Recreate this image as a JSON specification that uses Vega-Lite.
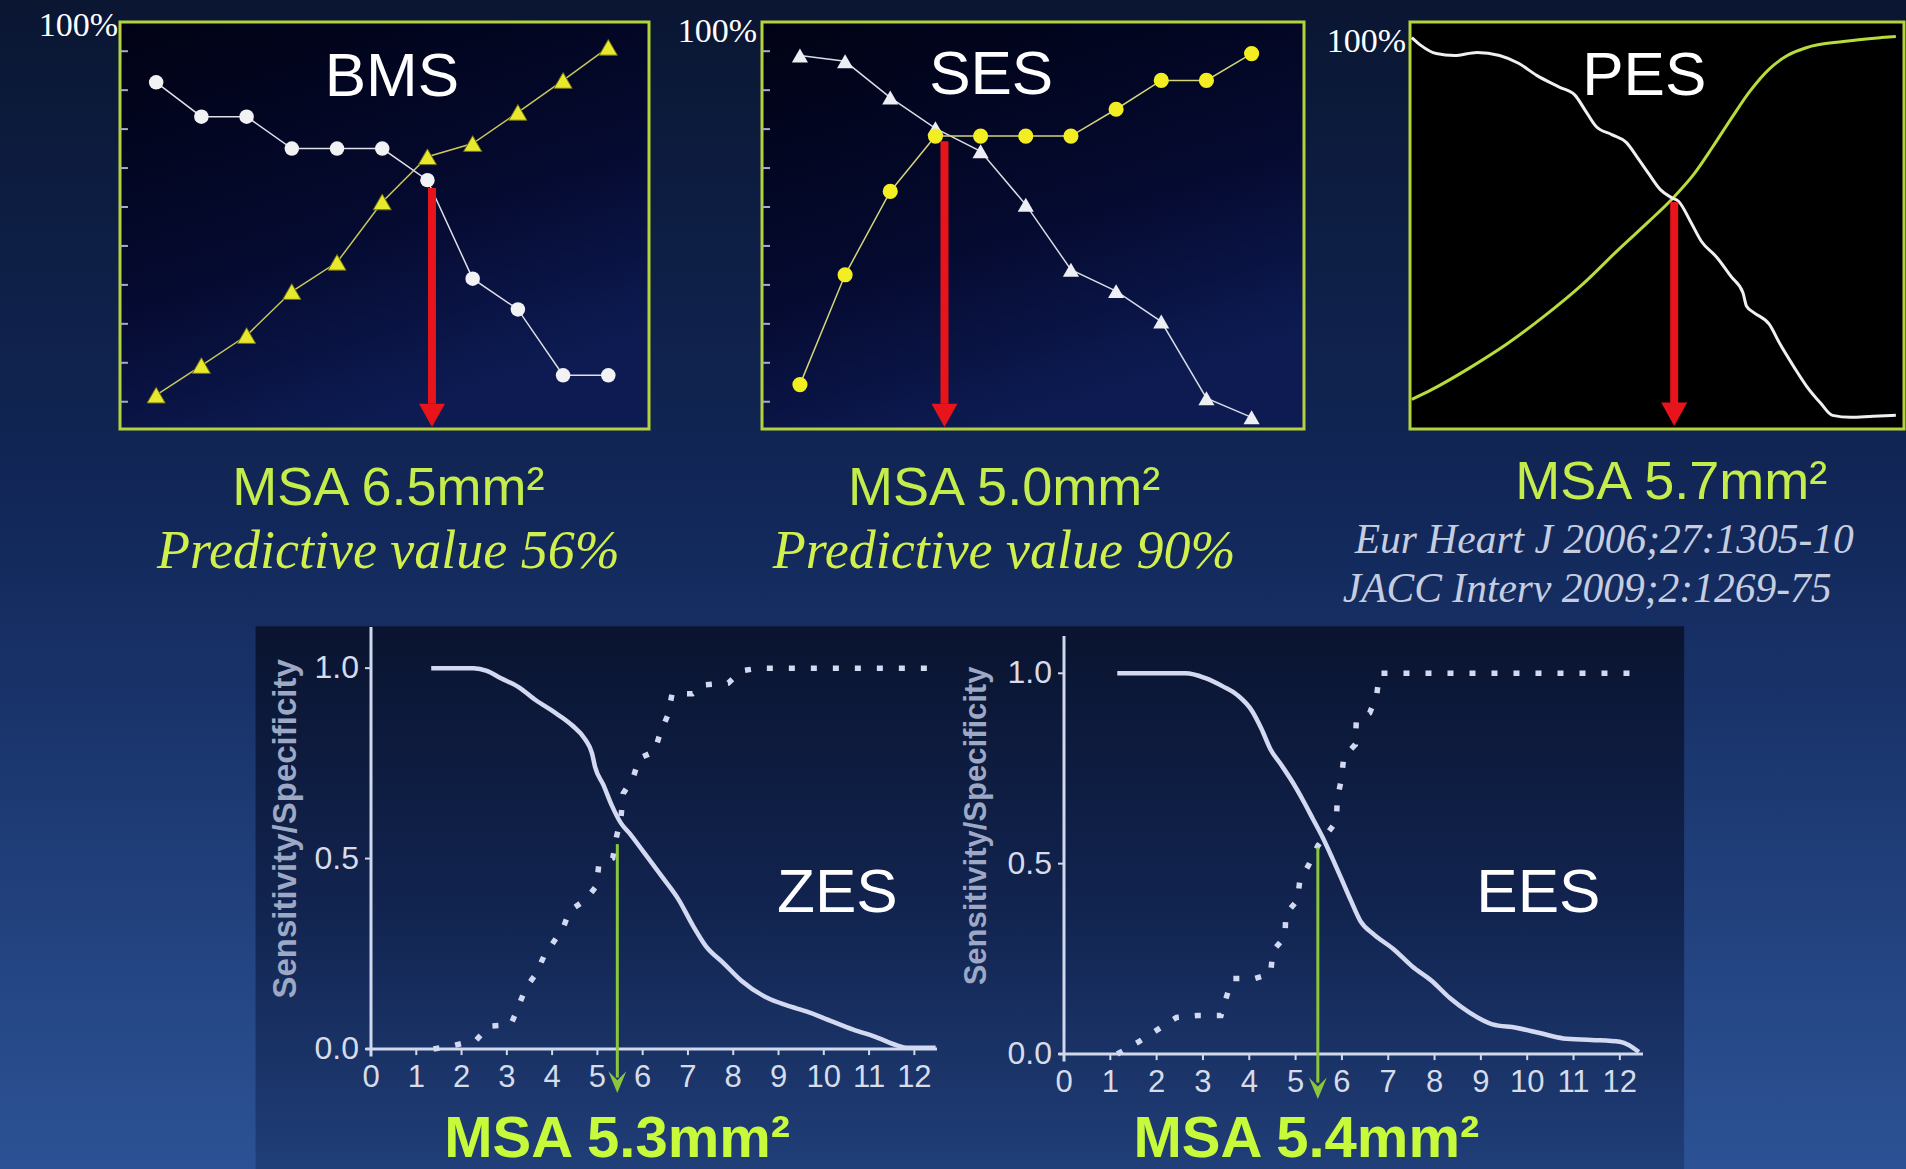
{
"$schema": "https://vega.github.io/schema/vega-lite/v6.json",
"width": 1906, "height": 1169, "padding": 0, "autosize": {"type": "none"},
"background": "#13295a",
"config": {"view": {"stroke": null}},
"datasets": {
"ticks10": [{"v":0},{"v":10},{"v":20},{"v":30},{"v":40},{"v":50},{"v":60},{"v":70},{"v":80},{"v":90}],
"xticks": [{"v":0},{"v":1},{"v":2},{"v":3},{"v":4},{"v":5},{"v":6},{"v":7},{"v":8},{"v":9},{"v":10},{"v":11},{"v":12}],
"yticks": [{"v":0},{"v":0.5},{"v":1}],
"top": [
{"panel":"BMS","curve":"white","msa":3.5,"pct":82.0},{"panel":"BMS","curve":"white","msa":4.0,"pct":73.2},{"panel":"BMS","curve":"white","msa":4.5,"pct":73.2},{"panel":"BMS","curve":"white","msa":5.0,"pct":65.0},{"panel":"BMS","curve":"white","msa":5.5,"pct":65.0},{"panel":"BMS","curve":"white","msa":6.0,"pct":65.0},{"panel":"BMS","curve":"white","msa":6.5,"pct":56.9},{"panel":"BMS","curve":"white","msa":7.0,"pct":31.6},{"panel":"BMS","curve":"white","msa":7.5,"pct":23.7},{"panel":"BMS","curve":"white","msa":8.0,"pct":6.8},{"panel":"BMS","curve":"white","msa":8.5,"pct":6.8},
{"panel":"BMS","curve":"yellow","msa":3.5,"pct":1.7},{"panel":"BMS","curve":"yellow","msa":4.0,"pct":9.3},{"panel":"BMS","curve":"yellow","msa":4.5,"pct":17.0},{"panel":"BMS","curve":"yellow","msa":5.0,"pct":28.3},{"panel":"BMS","curve":"yellow","msa":5.5,"pct":35.8},{"panel":"BMS","curve":"yellow","msa":6.0,"pct":51.3},{"panel":"BMS","curve":"yellow","msa":6.5,"pct":62.9},{"panel":"BMS","curve":"yellow","msa":7.0,"pct":66.3},{"panel":"BMS","curve":"yellow","msa":7.5,"pct":74.3},{"panel":"BMS","curve":"yellow","msa":8.0,"pct":82.5},{"panel":"BMS","curve":"yellow","msa":8.5,"pct":91.0},
{"panel":"SES","curve":"yellow","msa":3.5,"pct":4.4},{"panel":"SES","curve":"yellow","msa":4.0,"pct":32.6},{"panel":"SES","curve":"yellow","msa":4.5,"pct":54.0},{"panel":"SES","curve":"yellow","msa":5.0,"pct":68.2},{"panel":"SES","curve":"yellow","msa":5.5,"pct":68.2},{"panel":"SES","curve":"yellow","msa":6.0,"pct":68.2},{"panel":"SES","curve":"yellow","msa":6.5,"pct":68.2},{"panel":"SES","curve":"yellow","msa":7.0,"pct":75.1},{"panel":"SES","curve":"yellow","msa":7.5,"pct":82.5},{"panel":"SES","curve":"yellow","msa":8.0,"pct":82.5},{"panel":"SES","curve":"yellow","msa":8.5,"pct":89.4},
{"panel":"SES","curve":"white","msa":3.5,"pct":88.9},{"panel":"SES","curve":"white","msa":4.0,"pct":87.4},{"panel":"SES","curve":"white","msa":4.5,"pct":78.1},{"panel":"SES","curve":"white","msa":5.0,"pct":70.2},{"panel":"SES","curve":"white","msa":5.5,"pct":64.3},{"panel":"SES","curve":"white","msa":6.0,"pct":50.6},{"panel":"SES","curve":"white","msa":6.5,"pct":33.9},{"panel":"SES","curve":"white","msa":7.0,"pct":28.4},{"panel":"SES","curve":"white","msa":7.5,"pct":20.6},{"panel":"SES","curve":"white","msa":8.0,"pct":0.9},{"panel":"SES","curve":"white","msa":8.5,"pct":-4.0}
],
"pes": [
{"curve":"white","msa":2.80,"pct":93.5},{"curve":"white","msa":2.90,"pct":91.5},{"curve":"white","msa":3.07,"pct":89.4},{"curve":"white","msa":3.27,"pct":88.9},{"curve":"white","msa":3.52,"pct":89.7},{"curve":"white","msa":3.77,"pct":88.9},{"curve":"white","msa":3.98,"pct":86.9},{"curve":"white","msa":4.18,"pct":83.8},{"curve":"white","msa":4.43,"pct":80.8},{"curve":"white","msa":4.60,"pct":78.8},{"curve":"white","msa":4.72,"pct":74.7},{"curve":"white","msa":4.84,"pct":70.6},{"curve":"white","msa":5.01,"pct":68.6},{"curve":"white","msa":5.17,"pct":66.6},{"curve":"white","msa":5.30,"pct":62.5},{"curve":"white","msa":5.42,"pct":58.5},{"curve":"white","msa":5.55,"pct":54.4},{"curve":"white","msa":5.67,"pct":52.4},{"curve":"white","msa":5.75,"pct":51.4},{"curve":"white","msa":5.88,"pct":46.3},{"curve":"white","msa":6.00,"pct":41.2},{"curve":"white","msa":6.17,"pct":37.1},{"curve":"white","msa":6.33,"pct":32.1},{"curve":"white","msa":6.46,"pct":28.0},{"curve":"white","msa":6.50,"pct":24.5},{"curve":"white","msa":6.58,"pct":22.9},{"curve":"white","msa":6.75,"pct":19.9},{"curve":"white","msa":6.87,"pct":14.8},{"curve":"white","msa":7.03,"pct":8.7},{"curve":"white","msa":7.16,"pct":4.1},{"curve":"white","msa":7.32,"pct":-0.4},{"curve":"white","msa":7.45,"pct":-3.5},{"curve":"white","msa":7.65,"pct":-4.0},{"curve":"white","msa":7.90,"pct":-3.7},{"curve":"white","msa":8.15,"pct":-3.5},
{"curve":"green","msa":2.80,"pct":0.6},{"curve":"green","msa":3.02,"pct":3.1},{"curve":"green","msa":3.44,"pct":8.7},{"curve":"green","msa":3.85,"pct":14.8},{"curve":"green","msa":4.26,"pct":21.9},{"curve":"green","msa":4.68,"pct":30.0},{"curve":"green","msa":5.09,"pct":39.2},{"curve":"green","msa":5.42,"pct":46.3},{"curve":"green","msa":5.69,"pct":52.4},{"curve":"green","msa":5.92,"pct":58.5},{"curve":"green","msa":6.13,"pct":65.6},{"curve":"green","msa":6.33,"pct":72.7},{"curve":"green","msa":6.54,"pct":79.8},{"curve":"green","msa":6.75,"pct":85.4},{"curve":"green","msa":6.95,"pct":88.9},{"curve":"green","msa":7.16,"pct":90.9},{"curve":"green","msa":7.57,"pct":92.5},{"curve":"green","msa":7.99,"pct":93.5},{"curve":"green","msa":8.15,"pct":93.8}
],
"bottom": [
{"panel":"ZES","curve":"solid","msa":1.33,"val":1.0},{"panel":"ZES","curve":"solid","msa":2.27,"val":1.0},{"panel":"ZES","curve":"solid","msa":2.56,"val":0.993},{"panel":"ZES","curve":"solid","msa":2.86,"val":0.974},{"panel":"ZES","curve":"solid","msa":3.25,"val":0.951},{"panel":"ZES","curve":"solid","msa":3.65,"val":0.915},{"panel":"ZES","curve":"solid","msa":4.04,"val":0.885},{"panel":"ZES","curve":"solid","msa":4.44,"val":0.850},{"panel":"ZES","curve":"solid","msa":4.73,"val":0.813},{"panel":"ZES","curve":"solid","msa":4.88,"val":0.777},{"panel":"ZES","curve":"solid","msa":4.95,"val":0.740},{"panel":"ZES","curve":"solid","msa":5.13,"val":0.694},{"panel":"ZES","curve":"solid","msa":5.32,"val":0.639},{"panel":"ZES","curve":"solid","msa":5.52,"val":0.593},{"panel":"ZES","curve":"solid","msa":5.72,"val":0.565},{"panel":"ZES","curve":"solid","msa":6.01,"val":0.519},{"panel":"ZES","curve":"solid","msa":6.41,"val":0.455},{"panel":"ZES","curve":"solid","msa":6.80,"val":0.391},{"panel":"ZES","curve":"solid","msa":7.10,"val":0.326},{"panel":"ZES","curve":"solid","msa":7.39,"val":0.271},{"panel":"ZES","curve":"solid","msa":7.79,"val":0.225},{"panel":"ZES","curve":"solid","msa":8.18,"val":0.179},{"panel":"ZES","curve":"solid","msa":8.77,"val":0.133},{"panel":"ZES","curve":"solid","msa":9.17,"val":0.115},{"panel":"ZES","curve":"solid","msa":9.66,"val":0.097},{"panel":"ZES","curve":"solid","msa":10.15,"val":0.074},{"panel":"ZES","curve":"solid","msa":10.65,"val":0.051},{"panel":"ZES","curve":"solid","msa":11.14,"val":0.032},{"panel":"ZES","curve":"solid","msa":11.63,"val":0.009},{"panel":"ZES","curve":"solid","msa":11.83,"val":0.003},{"panel":"ZES","curve":"solid","msa":12.47,"val":0.003},
{"panel":"ZES","curve":"dotted","msa":1.38,"val":0.0},{"panel":"ZES","curve":"dotted","msa":1.82,"val":0.009},{"panel":"ZES","curve":"dotted","msa":2.32,"val":0.023},{"panel":"ZES","curve":"dotted","msa":2.61,"val":0.060},{"panel":"ZES","curve":"dotted","msa":3.09,"val":0.064},{"panel":"ZES","curve":"dotted","msa":3.25,"val":0.110},{"panel":"ZES","curve":"dotted","msa":3.42,"val":0.161},{"panel":"ZES","curve":"dotted","msa":3.65,"val":0.198},{"panel":"ZES","curve":"dotted","msa":3.82,"val":0.244},{"panel":"ZES","curve":"dotted","msa":4.24,"val":0.317},{"panel":"ZES","curve":"dotted","msa":4.39,"val":0.363},{"panel":"ZES","curve":"dotted","msa":4.73,"val":0.391},{"panel":"ZES","curve":"dotted","msa":4.98,"val":0.428},{"panel":"ZES","curve":"dotted","msa":5.03,"val":0.483},{"panel":"ZES","curve":"dotted","msa":5.34,"val":0.501},{"panel":"ZES","curve":"dotted","msa":5.42,"val":0.556},{"panel":"ZES","curve":"dotted","msa":5.52,"val":0.607},{"panel":"ZES","curve":"dotted","msa":5.57,"val":0.671},{"panel":"ZES","curve":"dotted","msa":5.79,"val":0.712},{"panel":"ZES","curve":"dotted","msa":5.92,"val":0.763},{"panel":"ZES","curve":"dotted","msa":6.26,"val":0.781},{"panel":"ZES","curve":"dotted","msa":6.38,"val":0.827},{"panel":"ZES","curve":"dotted","msa":6.56,"val":0.878},{"panel":"ZES","curve":"dotted","msa":6.65,"val":0.933},{"panel":"ZES","curve":"dotted","msa":7.10,"val":0.933},{"panel":"ZES","curve":"dotted","msa":7.34,"val":0.956},{"panel":"ZES","curve":"dotted","msa":7.89,"val":0.961},{"panel":"ZES","curve":"dotted","msa":8.18,"val":0.993},{"panel":"ZES","curve":"dotted","msa":8.58,"val":1.0},{"panel":"ZES","curve":"dotted","msa":12.47,"val":1.0},
{"panel":"EES","curve":"solid","msa":1.15,"val":1.0},{"panel":"EES","curve":"solid","msa":2.63,"val":1.0},{"panel":"EES","curve":"solid","msa":3.04,"val":0.988},{"panel":"EES","curve":"solid","msa":3.44,"val":0.965},{"panel":"EES","curve":"solid","msa":3.75,"val":0.942},{"panel":"EES","curve":"solid","msa":4.06,"val":0.901},{"panel":"EES","curve":"solid","msa":4.26,"val":0.855},{"panel":"EES","curve":"solid","msa":4.46,"val":0.800},{"panel":"EES","curve":"solid","msa":4.67,"val":0.763},{"panel":"EES","curve":"solid","msa":4.92,"val":0.717},{"panel":"EES","curve":"solid","msa":5.18,"val":0.662},{"panel":"EES","curve":"solid","msa":5.38,"val":0.616},{"panel":"EES","curve":"solid","msa":5.58,"val":0.570},{"panel":"EES","curve":"solid","msa":5.79,"val":0.515},{"panel":"EES","curve":"solid","msa":5.99,"val":0.460},{"panel":"EES","curve":"solid","msa":6.19,"val":0.404},{"panel":"EES","curve":"solid","msa":6.40,"val":0.349},{"panel":"EES","curve":"solid","msa":6.70,"val":0.313},{"panel":"EES","curve":"solid","msa":7.11,"val":0.276},{"panel":"EES","curve":"solid","msa":7.52,"val":0.230},{"panel":"EES","curve":"solid","msa":7.93,"val":0.193},{"panel":"EES","curve":"solid","msa":8.33,"val":0.147},{"panel":"EES","curve":"solid","msa":8.74,"val":0.110},{"panel":"EES","curve":"solid","msa":9.25,"val":0.078},{"panel":"EES","curve":"solid","msa":9.76,"val":0.069},{"panel":"EES","curve":"solid","msa":10.27,"val":0.055},{"panel":"EES","curve":"solid","msa":10.78,"val":0.041},{"panel":"EES","curve":"solid","msa":11.39,"val":0.037},{"panel":"EES","curve":"solid","msa":12.0,"val":0.032},{"panel":"EES","curve":"solid","msa":12.20,"val":0.023},{"panel":"EES","curve":"solid","msa":12.41,"val":0.005},
{"panel":"EES","curve":"dotted","msa":1.15,"val":0.0},{"panel":"EES","curve":"dotted","msa":1.61,"val":0.032},{"panel":"EES","curve":"dotted","msa":2.02,"val":0.064},{"panel":"EES","curve":"dotted","msa":2.43,"val":0.096},{"panel":"EES","curve":"dotted","msa":2.88,"val":0.101},{"panel":"EES","curve":"dotted","msa":3.39,"val":0.101},{"panel":"EES","curve":"dotted","msa":3.50,"val":0.147},{"panel":"EES","curve":"dotted","msa":3.63,"val":0.198},{"panel":"EES","curve":"dotted","msa":4.11,"val":0.198},{"panel":"EES","curve":"dotted","msa":4.46,"val":0.211},{"panel":"EES","curve":"dotted","msa":4.51,"val":0.271},{"panel":"EES","curve":"dotted","msa":4.77,"val":0.308},{"panel":"EES","curve":"dotted","msa":4.79,"val":0.368},{"panel":"EES","curve":"dotted","msa":5.04,"val":0.404},{"panel":"EES","curve":"dotted","msa":5.09,"val":0.455},{"panel":"EES","curve":"dotted","msa":5.28,"val":0.496},{"panel":"EES","curve":"dotted","msa":5.48,"val":0.547},{"panel":"EES","curve":"dotted","msa":5.88,"val":0.611},{"panel":"EES","curve":"dotted","msa":5.90,"val":0.671},{"panel":"EES","curve":"dotted","msa":5.99,"val":0.722},{"panel":"EES","curve":"dotted","msa":6.04,"val":0.781},{"panel":"EES","curve":"dotted","msa":6.29,"val":0.813},{"panel":"EES","curve":"dotted","msa":6.31,"val":0.873},{"panel":"EES","curve":"dotted","msa":6.60,"val":0.896},{"panel":"EES","curve":"dotted","msa":6.75,"val":0.942},{"panel":"EES","curve":"dotted","msa":6.81,"val":1.0},{"panel":"EES","curve":"dotted","msa":12.51,"val":1.0}
]
},
"layer": [
{"data": {"values": [{}]},
 "mark": {"type": "rect", "fill": {"gradient": "linear", "x1": 0, "y1": 0, "x2": 0, "y2": 1, "stops": [{"offset": 0, "color": "#0a1632"}, {"offset": 0.45, "color": "#12285a"}, {"offset": 1, "color": "#2c5295"}]}},
 "encoding": {}},
{
 "layer": [
  {"data": {"values": [{}]},
   "mark": {"type": "rect", "fill": {"gradient": "linear", "x1": 0, "y1": 0, "x2": 0.4, "y2": 1, "stops": [{"offset": 0, "color": "#010214"}, {"offset": 0.6, "color": "#050a30"}, {"offset": 1, "color": "#0d1b52"}]}, "stroke": "#b4d23c", "strokeWidth": 3},
   "encoding": {
    "x": {"datum": 3.1, "type": "quantitative", "scale": {"domain": [3.1, 8.95], "range": [120, 649], "nice": false, "zero": false}, "axis": null},
    "x2": {"datum": 8.95},
    "y": {"datum": -7, "type": "quantitative", "scale": {"domain": [-7, 97.5], "range": [429, 22], "nice": false, "zero": false}, "axis": null},
    "y2": {"datum": 97.5}}},
  {"data": {"name": "ticks10"},
   "mark": {"type": "rule", "color": "#a8aeb8", "strokeWidth": 2},
   "encoding": {"y": {"field": "v", "type": "quantitative", "axis": null}, "x": {"datum": 3.1, "type": "quantitative", "axis": null}, "x2": {"datum": 3.188}}},
  {"encoding": {
    "x": {"field": "msa", "type": "quantitative", "scale": {"domain": [3.1, 8.95], "range": [120, 649], "nice": false, "zero": false}, "axis": null},
    "y": {"field": "pct", "type": "quantitative", "scale": {"domain": [-7, 97.5], "range": [429, 22], "nice": false, "zero": false}, "axis": null}},
   "layer": [
    {"data": {"name": "top"}, "transform": [{"filter": "datum.panel === 'BMS' && datum.curve === 'yellow'"}],
     "mark": {"type": "line", "color": "#c8c85a", "strokeWidth": 1.5}},
    {"data": {"name": "top"}, "transform": [{"filter": "datum.panel === 'BMS' && datum.curve === 'yellow'"}],
     "mark": {"type": "point", "shape": "triangle-up", "filled": true, "color": "#e8e82c", "stroke": "#6e6e18", "strokeWidth": 1, "size": 330, "opacity": 1}},
    {"data": {"name": "top"}, "transform": [{"filter": "datum.panel === 'BMS' && datum.curve === 'white'"}],
     "mark": {"type": "line", "color": "#e0e0e8", "strokeWidth": 1.5}},
    {"data": {"name": "top"}, "transform": [{"filter": "datum.panel === 'BMS' && datum.curve === 'white'"}],
     "mark": {"type": "circle", "color": "#f2f2f4", "size": 210, "opacity": 1}}
   ]},
  {"data": {"values": [{}]},
   "mark": {"type": "rule", "color": "#e8141c", "strokeWidth": 8},
   "encoding": {"x": {"datum": 6.55, "type": "quantitative", "axis": null}, "y": {"datum": 54.9, "type": "quantitative", "axis": null}, "y2": {"datum": -0.5}}},
  {"data": {"values": [{}]},
   "mark": {"type": "point", "shape": "M-1,-0.9L1,-0.9L0,0.9Z", "filled": true, "color": "#e8141c", "size": 676, "opacity": 1},
   "encoding": {"x": {"datum": 6.55, "type": "quantitative", "axis": null}, "y": {"datum": -3.5, "type": "quantitative", "axis": null}}},
  {"data": {"values": [{}]},
   "mark": {"type": "text", "font": "Liberation Sans", "fontSize": 62, "color": "#ffffff", "align": "center", "baseline": "alphabetic"},
   "encoding": {"x": {"datum": 6.106, "type": "quantitative", "axis": null}, "y": {"datum": 78.6, "type": "quantitative", "axis": null}, "text": {"value": "BMS"}}},
  {"data": {"values": [{}]},
   "mark": {"type": "text", "font": "Liberation Serif", "fontSize": 34, "color": "#ffffff", "align": "right", "baseline": "alphabetic"},
   "encoding": {"x": {"datum": 3.08, "type": "quantitative", "axis": null}, "y": {"datum": 93.9, "type": "quantitative", "axis": null}, "text": {"value": "100%"}}},
  {"data": {"values": [{}]},
   "mark": {"type": "text", "font": "Liberation Sans", "fontSize": 54, "color": "#c4ec4a", "align": "center", "baseline": "alphabetic"},
   "encoding": {"x": {"datum": 6.068, "type": "quantitative", "axis": null}, "y": {"datum": -26.5, "type": "quantitative", "axis": null}, "text": {"value": "MSA 6.5mm²"}}},
  {"data": {"values": [{}]},
   "mark": {"type": "text", "font": "Liberation Serif", "fontStyle": "italic", "fontSize": 54, "color": "#d2f04c", "align": "center", "baseline": "alphabetic"},
   "encoding": {"x": {"datum": 6.068, "type": "quantitative", "axis": null}, "y": {"datum": -42.7, "type": "quantitative", "axis": null}, "text": {"value": "Predictive value 56%"}}}
 ]
},
{
 "layer": [
  {"data": {"values": [{}]},
   "mark": {"type": "rect", "fill": {"gradient": "linear", "x1": 0, "y1": 0, "x2": 0.4, "y2": 1, "stops": [{"offset": 0, "color": "#010214"}, {"offset": 0.6, "color": "#050a30"}, {"offset": 1, "color": "#0d1b52"}]}, "stroke": "#b4d23c", "strokeWidth": 3},
   "encoding": {
    "x": {"datum": 3.08, "type": "quantitative", "scale": {"domain": [3.08, 9.08], "range": [762, 1304], "nice": false, "zero": false}, "axis": null},
    "x2": {"datum": 9.08},
    "y": {"datum": -7, "type": "quantitative", "scale": {"domain": [-7, 97.5], "range": [429, 22], "nice": false, "zero": false}, "axis": null},
    "y2": {"datum": 97.5}}},
  {"data": {"name": "ticks10"},
   "mark": {"type": "rule", "color": "#a8aeb8", "strokeWidth": 2},
   "encoding": {"y": {"field": "v", "type": "quantitative", "axis": null}, "x": {"datum": 3.08, "type": "quantitative", "axis": null}, "x2": {"datum": 3.169}}},
  {"encoding": {
    "x": {"field": "msa", "type": "quantitative", "scale": {"domain": [3.08, 9.08], "range": [762, 1304], "nice": false, "zero": false}, "axis": null},
    "y": {"field": "pct", "type": "quantitative", "scale": {"domain": [-7, 97.5], "range": [429, 22], "nice": false, "zero": false}, "axis": null}},
   "layer": [
    {"data": {"name": "top"}, "transform": [{"filter": "datum.panel === 'SES' && datum.curve === 'white'"}],
     "mark": {"type": "line", "color": "#d8dce4", "strokeWidth": 1.5}},
    {"data": {"name": "top"}, "transform": [{"filter": "datum.panel === 'SES' && datum.curve === 'white'"}],
     "mark": {"type": "point", "shape": "triangle-up", "filled": true, "color": "#eceef4", "size": 260, "opacity": 1}},
    {"data": {"name": "top"}, "transform": [{"filter": "datum.panel === 'SES' && datum.curve === 'yellow'"}],
     "mark": {"type": "line", "color": "#d4d47a", "strokeWidth": 1.5}},
    {"data": {"name": "top"}, "transform": [{"filter": "datum.panel === 'SES' && datum.curve === 'yellow'"}],
     "mark": {"type": "circle", "color": "#f2ee22", "size": 230, "opacity": 1}}
   ]},
  {"data": {"values": [{}]},
   "mark": {"type": "rule", "color": "#e8141c", "strokeWidth": 8},
   "encoding": {"x": {"datum": 5.1, "type": "quantitative", "axis": null}, "y": {"datum": 66.9, "type": "quantitative", "axis": null}, "y2": {"datum": -0.5}}},
  {"data": {"values": [{}]},
   "mark": {"type": "point", "shape": "M-1,-0.9L1,-0.9L0,0.9Z", "filled": true, "color": "#e8141c", "size": 676, "opacity": 1},
   "encoding": {"x": {"datum": 5.1, "type": "quantitative", "axis": null}, "y": {"datum": -3.5, "type": "quantitative", "axis": null}}},
  {"data": {"values": [{}]},
   "mark": {"type": "text", "font": "Liberation Sans", "fontSize": 62, "color": "#ffffff", "align": "center", "baseline": "alphabetic"},
   "encoding": {"x": {"datum": 5.617, "type": "quantitative", "axis": null}, "y": {"datum": 79.0, "type": "quantitative", "axis": null}, "text": {"value": "SES"}}},
  {"data": {"values": [{}]},
   "mark": {"type": "text", "font": "Liberation Serif", "fontSize": 34, "color": "#ffffff", "align": "right", "baseline": "alphabetic"},
   "encoding": {"x": {"datum": 3.025, "type": "quantitative", "axis": null}, "y": {"datum": 92.3, "type": "quantitative", "axis": null}, "text": {"value": "100%"}}},
  {"data": {"values": [{}]},
   "mark": {"type": "text", "font": "Liberation Sans", "fontSize": 54, "color": "#c4ec4a", "align": "center", "baseline": "alphabetic"},
   "encoding": {"x": {"datum": 5.76, "type": "quantitative", "axis": null}, "y": {"datum": -26.5, "type": "quantitative", "axis": null}, "text": {"value": "MSA 5.0mm²"}}},
  {"data": {"values": [{}]},
   "mark": {"type": "text", "font": "Liberation Serif", "fontStyle": "italic", "fontSize": 54, "color": "#d2f04c", "align": "center", "baseline": "alphabetic"},
   "encoding": {"x": {"datum": 5.76, "type": "quantitative", "axis": null}, "y": {"datum": -42.7, "type": "quantitative", "axis": null}, "text": {"value": "Predictive value 90%"}}}
 ]
},
{
 "layer": [
  {"data": {"values": [{}]},
   "mark": {"type": "rect", "fill": "#000000", "stroke": "#b4d23c", "strokeWidth": 3},
   "encoding": {
    "x": {"datum": 2.78, "type": "quantitative", "scale": {"domain": [2.78, 8.24], "range": [1410, 1904], "nice": false, "zero": false}, "axis": null},
    "x2": {"datum": 8.24},
    "y": {"datum": -7, "type": "quantitative", "scale": {"domain": [-7, 97.5], "range": [429, 22], "nice": false, "zero": false}, "axis": null},
    "y2": {"datum": 97.5}}},
  {"encoding": {
    "x": {"field": "msa", "type": "quantitative", "scale": {"domain": [2.78, 8.24], "range": [1410, 1904], "nice": false, "zero": false}, "axis": null},
    "y": {"field": "pct", "type": "quantitative", "scale": {"domain": [-7, 97.5], "range": [429, 22], "nice": false, "zero": false}, "axis": null}},
   "layer": [
    {"data": {"name": "pes"}, "transform": [{"filter": "datum.curve === 'green'"}],
     "mark": {"type": "line", "color": "#b8dc3c", "strokeWidth": 3, "interpolate": "monotone"}},
    {"data": {"name": "pes"}, "transform": [{"filter": "datum.curve === 'white'"}],
     "mark": {"type": "line", "color": "#f0f0f0", "strokeWidth": 3, "interpolate": "monotone"}}
   ]},
  {"data": {"values": [{}]},
   "mark": {"type": "rule", "color": "#e8141c", "strokeWidth": 8},
   "encoding": {"x": {"datum": 5.7, "type": "quantitative", "axis": null}, "y": {"datum": 51.3, "type": "quantitative", "axis": null}, "y2": {"datum": -0.3}}},
  {"data": {"values": [{}]},
   "mark": {"type": "point", "shape": "M-1,-0.9L1,-0.9L0,0.9Z", "filled": true, "color": "#e8141c", "size": 676, "opacity": 1},
   "encoding": {"x": {"datum": 5.7, "type": "quantitative", "axis": null}, "y": {"datum": -3.2, "type": "quantitative", "axis": null}}},
  {"data": {"values": [{}]},
   "mark": {"type": "text", "font": "Liberation Sans", "fontSize": 62, "color": "#ffffff", "align": "center", "baseline": "alphabetic"},
   "encoding": {"x": {"datum": 5.369, "type": "quantitative", "axis": null}, "y": {"datum": 78.8, "type": "quantitative", "axis": null}, "text": {"value": "PES"}}},
  {"data": {"values": [{}]},
   "mark": {"type": "text", "font": "Liberation Serif", "fontSize": 34, "color": "#ffffff", "align": "right", "baseline": "alphabetic"},
   "encoding": {"x": {"datum": 2.736, "type": "quantitative", "axis": null}, "y": {"datum": 89.9, "type": "quantitative", "axis": null}, "text": {"value": "100%"}}},
  {"data": {"values": [{}]},
   "mark": {"type": "text", "font": "Liberation Sans", "fontSize": 54, "color": "#c4ec4a", "align": "center", "baseline": "alphabetic"},
   "encoding": {"x": {"datum": 5.667, "type": "quantitative", "axis": null}, "y": {"datum": -25.0, "type": "quantitative", "axis": null}, "text": {"value": "MSA 5.7mm²"}}},
  {"data": {"values": [{}]},
   "mark": {"type": "text", "font": "Liberation Serif", "fontStyle": "italic", "fontSize": 41.5, "color": "#c5cde0", "align": "center", "baseline": "alphabetic"},
   "encoding": {"x": {"datum": 4.926, "type": "quantitative", "axis": null}, "y": {"datum": -38.9, "type": "quantitative", "axis": null}, "text": {"value": "Eur Heart J 2006;27:1305-10"}}},
  {"data": {"values": [{}]},
   "mark": {"type": "text", "font": "Liberation Serif", "fontStyle": "italic", "fontSize": 41.5, "color": "#c5cde0", "align": "center", "baseline": "alphabetic"},
   "encoding": {"x": {"datum": 4.738, "type": "quantitative", "axis": null}, "y": {"datum": -51.4, "type": "quantitative", "axis": null}, "text": {"value": "JACC Interv 2009;2:1269-75"}}}
 ]
},
{
 "layer": [
  {"data": {"values": [{}]},
   "mark": {"type": "rect", "fill": {"gradient": "linear", "x1": 0, "y1": 0, "x2": 0, "y2": 1, "stops": [{"offset": 0, "color": "#0a1430"}, {"offset": 0.5, "color": "#11234e"}, {"offset": 1, "color": "#203e78"}]}},
   "encoding": {
    "x": {"datum": -2.55, "type": "quantitative", "scale": {"domain": [0, 12.5], "range": [371, 937], "nice": false, "zero": false}, "axis": null},
    "x2": {"datum": 29.0},
    "y": {"datum": 1.11, "type": "quantitative", "scale": {"domain": [0, 1.108], "range": [1049, 627], "nice": false, "zero": false}, "axis": null},
    "y2": {"datum": -0.315}}},
  {"data": {"values": [{}]},
   "mark": {"type": "rule", "color": "#d0d8ec", "strokeWidth": 3},
   "encoding": {"x": {"datum": -0.12, "type": "quantitative", "axis": null}, "x2": {"datum": 12.5}, "y": {"datum": 0, "type": "quantitative", "axis": null}}},
  {"data": {"values": [{}]},
   "mark": {"type": "rule", "color": "#d0d8ec", "strokeWidth": 3},
   "encoding": {"x": {"datum": 0, "type": "quantitative", "axis": null}, "y": {"datum": -0.02, "type": "quantitative", "axis": null}, "y2": {"datum": 1.108}}},
  {"data": {"name": "xticks"},
   "mark": {"type": "rule", "color": "#d0d8ec", "strokeWidth": 2},
   "encoding": {"x": {"field": "v", "type": "quantitative", "axis": null}, "y": {"datum": 0, "type": "quantitative", "axis": null}, "y2": {"datum": -0.016}}},
  {"data": {"name": "xticks"},
   "mark": {"type": "text", "font": "Liberation Sans", "fontSize": 31, "color": "#d6dcea", "align": "center", "baseline": "middle"},
   "encoding": {"x": {"field": "v", "type": "quantitative", "axis": null}, "y": {"datum": -0.076, "type": "quantitative", "axis": null}, "text": {"field": "v", "type": "quantitative", "format": "d"}}},
  {"data": {"name": "yticks"},
   "mark": {"type": "rule", "color": "#d0d8ec", "strokeWidth": 2},
   "encoding": {"y": {"field": "v", "type": "quantitative", "axis": null}, "x": {"datum": 0, "type": "quantitative", "axis": null}, "x2": {"datum": -0.1325}}},
  {"data": {"name": "yticks"},
   "mark": {"type": "text", "font": "Liberation Sans", "fontSize": 32, "color": "#d6dcea", "align": "right", "baseline": "middle"},
   "encoding": {"y": {"field": "v", "type": "quantitative", "axis": null}, "x": {"datum": -0.265, "type": "quantitative", "axis": null}, "text": {"field": "v", "type": "quantitative", "format": ".1f"}}},
  {"data": {"values": [{}]},
   "mark": {"type": "text", "angle": 270, "font": "Liberation Sans", "fontWeight": "bold", "fontSize": 33, "color": "#9ca8c4", "align": "center", "baseline": "middle"},
   "encoding": {"x": {"datum": -1.877, "type": "quantitative", "axis": null}, "y": {"datum": 0.578, "type": "quantitative", "axis": null}, "text": {"value": "Sensitivity/Specificity"}}},
  {"encoding": {
    "x": {"field": "msa", "type": "quantitative", "scale": {"domain": [0, 12.5], "range": [371, 937], "nice": false, "zero": false}, "axis": null},
    "y": {"field": "val", "type": "quantitative", "scale": {"domain": [0, 1.108], "range": [1049, 627], "nice": false, "zero": false}, "axis": null}},
   "layer": [
    {"data": {"name": "bottom"}, "transform": [{"filter": "datum.panel === 'ZES' && datum.curve === 'dotted'"}],
     "mark": {"type": "line", "color": "#d4d9f2", "strokeWidth": 5.5, "strokeDash": [6, 16], "strokeCap": "butt"}},
    {"data": {"name": "bottom"}, "transform": [{"filter": "datum.panel === 'ZES' && datum.curve === 'solid'"}],
     "mark": {"type": "line", "color": "#d4d9f2", "strokeWidth": 4.5, "interpolate": "monotone"}}
   ]},
  {"data": {"values": [{}]},
   "mark": {"type": "rule", "color": "#8cc63f", "strokeWidth": 3},
   "encoding": {"x": {"datum": 5.44, "type": "quantitative", "axis": null}, "y": {"datum": 0.538, "type": "quantitative", "axis": null}, "y2": {"datum": -0.075}}},
  {"data": {"values": [{}]},
   "mark": {"type": "point", "shape": "M-1,-1.2L0,-0.2L1,-1.2L0,1.2Z", "filled": true, "color": "#8cc63f", "size": 324, "opacity": 1},
   "encoding": {"x": {"datum": 5.44, "type": "quantitative", "axis": null}, "y": {"datum": -0.087, "type": "quantitative", "axis": null}}},
  {"data": {"values": [{}]},
   "mark": {"type": "text", "font": "Liberation Sans", "fontSize": 62, "color": "#ffffff", "align": "center", "baseline": "alphabetic"},
   "encoding": {"x": {"datum": 10.3, "type": "quantitative", "axis": null}, "y": {"datum": 0.3585, "type": "quantitative", "axis": null}, "text": {"value": "ZES"}}},
  {"data": {"values": [{}]},
   "mark": {"type": "text", "font": "Liberation Sans", "fontWeight": "bold", "fontSize": 58, "color": "#c8fa3c", "align": "center", "baseline": "alphabetic"},
   "encoding": {"x": {"datum": 5.436, "type": "quantitative", "axis": null}, "y": {"datum": -0.284, "type": "quantitative", "axis": null}, "text": {"value": "MSA 5.3mm²"}}}
 ]
},
{
 "layer": [
  {"data": {"values": [{}]},
   "mark": {"type": "rule", "color": "#d0d8ec", "strokeWidth": 3},
   "encoding": {"x": {"datum": -0.12, "type": "quantitative", "scale": {"domain": [0, 12.5], "range": [1064, 1643], "nice": false, "zero": false}, "axis": null}, "x2": {"datum": 12.5}, "y": {"datum": 0, "type": "quantitative", "scale": {"domain": [0, 1.098], "range": [1054, 636], "nice": false, "zero": false}, "axis": null}}},
  {"data": {"values": [{}]},
   "mark": {"type": "rule", "color": "#d0d8ec", "strokeWidth": 3},
   "encoding": {"x": {"datum": 0, "type": "quantitative", "axis": null}, "y": {"datum": -0.02, "type": "quantitative", "axis": null}, "y2": {"datum": 1.098}}},
  {"data": {"name": "xticks"},
   "mark": {"type": "rule", "color": "#d0d8ec", "strokeWidth": 2},
   "encoding": {"x": {"field": "v", "type": "quantitative", "axis": null}, "y": {"datum": 0, "type": "quantitative", "axis": null}, "y2": {"datum": -0.016}}},
  {"data": {"name": "xticks"},
   "mark": {"type": "text", "font": "Liberation Sans", "fontSize": 31, "color": "#d6dcea", "align": "center", "baseline": "middle"},
   "encoding": {"x": {"field": "v", "type": "quantitative", "axis": null}, "y": {"datum": -0.076, "type": "quantitative", "axis": null}, "text": {"field": "v", "type": "quantitative", "format": "d"}}},
  {"data": {"name": "yticks"},
   "mark": {"type": "rule", "color": "#d0d8ec", "strokeWidth": 2},
   "encoding": {"y": {"field": "v", "type": "quantitative", "axis": null}, "x": {"datum": 0, "type": "quantitative", "axis": null}, "x2": {"datum": -0.1295}}},
  {"data": {"name": "yticks"},
   "mark": {"type": "text", "font": "Liberation Sans", "fontSize": 32, "color": "#d6dcea", "align": "right", "baseline": "middle"},
   "encoding": {"y": {"field": "v", "type": "quantitative", "axis": null}, "x": {"datum": -0.259, "type": "quantitative", "axis": null}, "text": {"field": "v", "type": "quantitative", "format": ".1f"}}},
  {"data": {"values": [{}]},
   "mark": {"type": "text", "angle": 270, "font": "Liberation Sans", "fontWeight": "bold", "fontSize": 31, "color": "#9ca8c4", "align": "center", "baseline": "middle"},
   "encoding": {"x": {"datum": -1.878, "type": "quantitative", "axis": null}, "y": {"datum": 0.599, "type": "quantitative", "axis": null}, "text": {"value": "Sensitivity/Specificity"}}},
  {"encoding": {
    "x": {"field": "msa", "type": "quantitative", "scale": {"domain": [0, 12.5], "range": [1064, 1643], "nice": false, "zero": false}, "axis": null},
    "y": {"field": "val", "type": "quantitative", "scale": {"domain": [0, 1.098], "range": [1054, 636], "nice": false, "zero": false}, "axis": null}},
   "layer": [
    {"data": {"name": "bottom"}, "transform": [{"filter": "datum.panel === 'EES' && datum.curve === 'dotted'"}],
     "mark": {"type": "line", "color": "#d4d9f2", "strokeWidth": 5.5, "strokeDash": [6, 16], "strokeCap": "butt"}},
    {"data": {"name": "bottom"}, "transform": [{"filter": "datum.panel === 'EES' && datum.curve === 'solid'"}],
     "mark": {"type": "line", "color": "#d4d9f2", "strokeWidth": 4.5, "interpolate": "monotone"}}
   ]},
  {"data": {"values": [{}]},
   "mark": {"type": "rule", "color": "#8cc63f", "strokeWidth": 3},
   "encoding": {"x": {"datum": 5.48, "type": "quantitative", "axis": null}, "y": {"datum": 0.542, "type": "quantitative", "axis": null}, "y2": {"datum": -0.075}}},
  {"data": {"values": [{}]},
   "mark": {"type": "point", "shape": "M-1,-1.2L0,-0.2L1,-1.2L0,1.2Z", "filled": true, "color": "#8cc63f", "size": 324, "opacity": 1},
   "encoding": {"x": {"datum": 5.48, "type": "quantitative", "axis": null}, "y": {"datum": -0.09, "type": "quantitative", "axis": null}}},
  {"data": {"values": [{}]},
   "mark": {"type": "text", "font": "Liberation Sans", "fontSize": 62, "color": "#ffffff", "align": "center", "baseline": "alphabetic"},
   "encoding": {"x": {"datum": 10.24, "type": "quantitative", "axis": null}, "y": {"datum": 0.372, "type": "quantitative", "axis": null}, "text": {"value": "EES"}}},
  {"data": {"values": [{}]},
   "mark": {"type": "text", "font": "Liberation Sans", "fontWeight": "bold", "fontSize": 58, "color": "#c8fa3c", "align": "center", "baseline": "alphabetic"},
   "encoding": {"x": {"datum": 5.232, "type": "quantitative", "axis": null}, "y": {"datum": -0.271, "type": "quantitative", "axis": null}, "text": {"value": "MSA 5.4mm²"}}}
 ]
}
],
"resolve": {"scale": {"x": "independent", "y": "independent"}}
}
